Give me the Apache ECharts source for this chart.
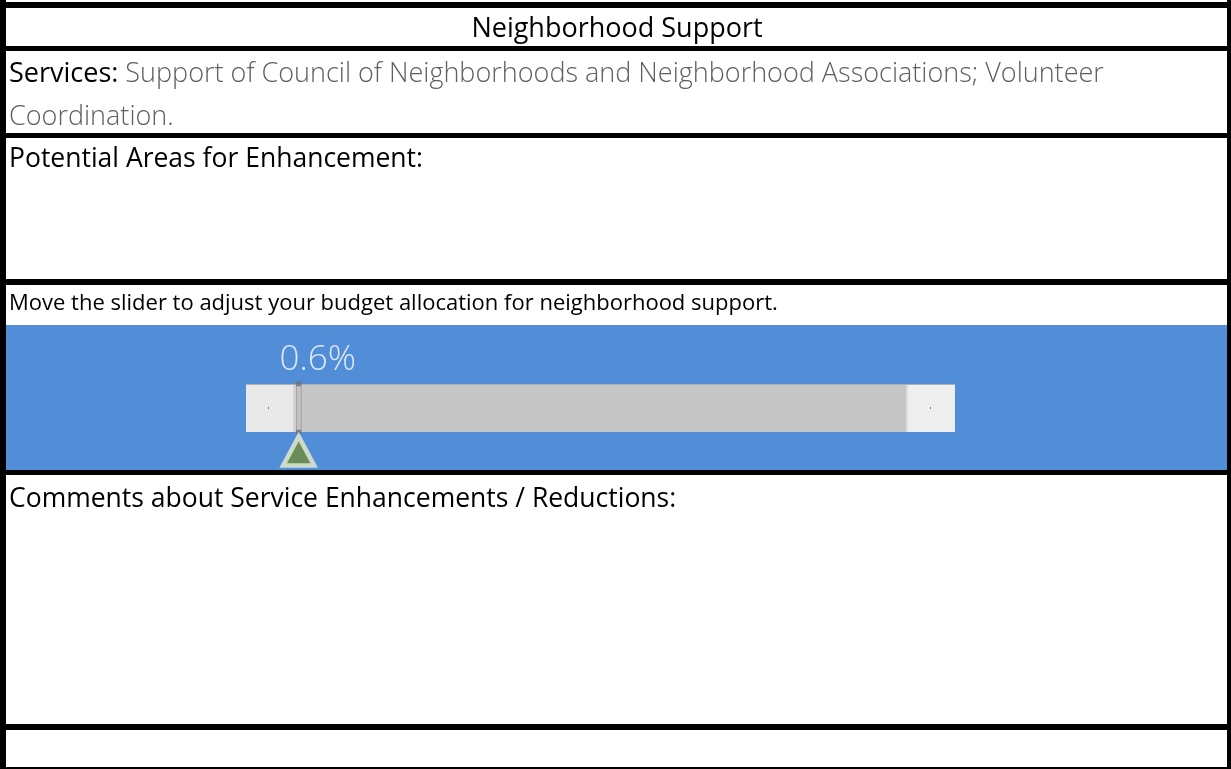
<!DOCTYPE html>
<html>
<head>
<meta charset="utf-8">
<script src="https://cdn.jsdelivr.net/npm/echarts@6/dist/echarts.min.js"></script>
<style>
html,body{margin:0;padding:0;background:#fff;}
#c{width:1231px;height:769px;}
</style>
</head>
<body>
<div id="c"></div>
<script>
// ---- data ----
const title = 'Neighborhood Support';
const servicesLabel = 'Services:';
const servicesLine1 = ' Support of Council of Neighborhoods and Neighborhood Associations; Volunteer';
const servicesLine2 = 'Coordination.';
const enhancementLabel = 'Potential Areas for Enhancement:';
const sliderPrompt = 'Move the slider to adjust your budget allocation for neighborhood support.';
const commentsLabel = 'Comments about Service Enhancements / Reductions:';
const sliderCategories = ['Neighborhood Support'];
const sliderValues = [0.6];      // percent allocation
const sliderMin = [0];
const sliderMax = [100];

const FONT = '"Open Sans", "Noto Sans", sans-serif';
const BLUE = '#528ed8';

const chart = echarts.init(document.getElementById('c'), null, {renderer: 'canvas'});

function hline(y, h) {
  return {type: 'rect', shape: {x: 0, y: y, width: 1231, height: h}, style: {fill: '#000'}, silent: true};
}

const option = {
  animation: false,
  backgroundColor: '#fff',
  grid: {left: 295, top: 384, width: 613, height: 48},
  xAxis: {type: 'value', min: sliderMin[0], max: sliderMax[0], show: false},
  yAxis: {type: 'category', data: sliderCategories, show: false},
  graphic: {elements: [
    // blue band
    {type: 'rect', z: -10, shape: {x: 6, y: 325, width: 1221, height: 146}, style: {fill: BLUE}, silent: true},
    // slider track & buttons
    {type: 'rect', z: -5, shape: {x: 246, y: 384, width: 709, height: 48}, style: {fill: '#c6c6c6'}, silent: true},
    {type: 'rect', z: -4, shape: {x: 246, y: 384, width: 47, height: 48}, style: {fill: '#e9e9e9'}, silent: true},
    {type: 'rect', z: -4, shape: {x: 293, y: 384, width: 3, height: 48}, style: {fill: '#d4d4d4'}, silent: true},
    {type: 'rect', z: -4, shape: {x: 908, y: 384, width: 47, height: 48}, style: {fill: '#eeeeee'}, silent: true},
    {type: 'rect', z: -4, shape: {x: 906, y: 384, width: 2, height: 48}, style: {fill: '#dcdcdc'}, silent: true},
    {type: 'rect', z: -4, shape: {x: 246, y: 384, width: 709, height: 1}, style: {fill: '#b0b0b0'}, silent: true},
    {type: 'rect', z: -3, shape: {x: 268, y: 407, width: 1, height: 2}, style: {fill: '#777'}, silent: true},
    {type: 'rect', z: -3, shape: {x: 930, y: 407, width: 1, height: 2}, style: {fill: '#777'}, silent: true},
    // borders
    {type: 'rect', shape: {x: 0, y: 0, width: 6, height: 769}, style: {fill: '#000'}, silent: true},
    {type: 'rect', shape: {x: 1227, y: 0, width: 4, height: 769}, style: {fill: '#000'}, silent: true},
    hline(2, 6),
    hline(46, 5),
    hline(133, 5),
    hline(279, 6),
    hline(470, 5),
    hline(724, 6),
    hline(767, 2),
    // texts
    {type: 'text', x: 617, y: 29, style: {text: title, font: '27px ' + FONT, fill: '#000', align: 'center', verticalAlign: 'middle'}},
    {type: 'text', x: 9, y: 74, style: {
      text: '{a|' + servicesLabel + '}{b|' + servicesLine1 + '}',
      rich: {a: {font: '27px ' + FONT, fill: '#000'}, b: {font: '300 27px ' + FONT, fill: '#5f5f5f'}},
      verticalAlign: 'middle'}},
    {type: 'text', x: 9, y: 117, style: {text: servicesLine2, font: '300 27px ' + FONT, fill: '#5f5f5f', verticalAlign: 'middle'}},
    {type: 'text', x: 9, y: 159, style: {text: enhancementLabel, font: '26.5px ' + FONT, fill: '#000', verticalAlign: 'middle'}},
    {type: 'text', x: 9, y: 304, style: {text: sliderPrompt, font: '22px ' + FONT, fill: '#000', verticalAlign: 'middle'}},
    {type: 'text', x: 9, y: 499, style: {text: commentsLabel, font: '26.5px ' + FONT, fill: '#000', verticalAlign: 'middle'}}
  ]},
  series: [
    { // thumb
      type: 'scatter', name: 'thumb', z: 3,
      data: sliderValues.map((v, i) => [v, sliderCategories[i]]),
      symbol: 'rect', symbolSize: [5, 48],
      itemStyle: {color: '#c0c0c0', borderColor: '#707070', borderWidth: 1.5}
    },
    { // triangle marker
      type: 'scatter', name: 'marker', z: 4,
      data: sliderValues.map((v, i) => [v, sliderCategories[i]]),
      symbol: 'triangle', symbolSize: [31, 29], symbolOffset: [0, 43],
      itemStyle: {color: '#6f8c3a', borderColor: '#e8eed6', borderWidth: 4.5}
    },
    { // value label
      type: 'scatter', name: 'label', z: 5,
      data: sliderValues.map((v, i) => [v, sliderCategories[i]]),
      symbolSize: 0,
      label: {show: true, position: 'inside', offset: [19, -48], color: '#fff',
        fontFamily: FONT, fontSize: 35, fontWeight: 300,
        formatter: p => p.value[0] + '%'}
    }
  ]
};
chart.setOption(option);
</script>
</body>
</html>
